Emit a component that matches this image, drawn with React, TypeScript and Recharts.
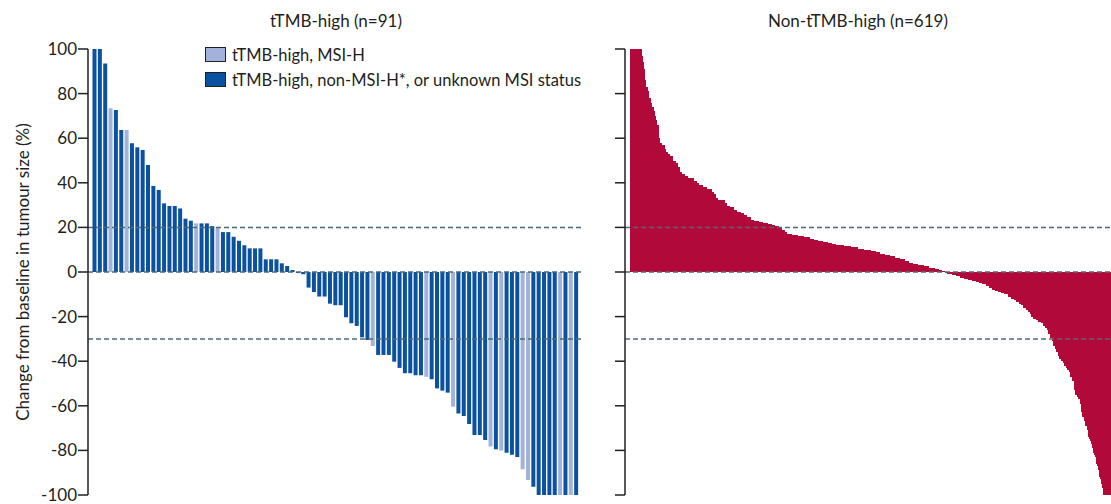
import React from 'react';
import { BarChart, Bar, XAxis, YAxis, ReferenceLine, Legend } from 'recharts';

// ---------- labels ----------
const highTitle = 'tTMB-high (n=91)';
const nonHighTitle = 'Non-tTMB-high (n=619)';
const yAxisLabel = 'Change from baseline in tumour size (%)';
const msiHLabel = 'tTMB-high, MSI-H';
const otherLabel = 'tTMB-high, non-MSI-H*, or unknown MSI status';

// ---------- ticks / reference lines ----------
const yTicks = [100, 80, 60, 40, 20, 0, -20, -40, -60, -80, -100];
const referenceValues = [20, 0, -30];

// ---------- tTMB-high: best change per patient (sorted) ----------
const highValues = [
  100, 100, 93.5, 73.4, 72.6, 63.7, 63.7, 57.7, 55.9, 54.7,
  48, 38.6, 36.8, 30.8, 29.6, 29.6, 28.5, 23.9, 23, 21.8,
  21.8, 21.8, 20.6, 20, 17.9, 17.9, 15.8, 14, 12, 10.6,
  10.6, 10.6, 5.7, 5.7, 5.7, 3.9, 2.7, 0.9, -0.5, -1,
  -7, -9, -11, -11, -14.2, -14.9, -14.9, -20.3, -23, -24.2,
  -29.3, -30.5, -33.2, -37.2, -37.2, -37.2, -40.2, -43, -45.4, -45.4,
  -46.3, -46.3, -47, -48.1, -52.2, -53.2, -54.1, -60.4, -63.4, -64.6,
  -68.2, -73.1, -73.1, -75.3, -78.3, -79.5, -80.1, -81, -82, -83,
  -88.5, -93.3, -96.3, -100, -100, -100, -100, -100, -100, -100,
  -100,
];
// 1-based positions of MSI-H patients
const msiHPositions = [4, 7, 20, 24, 53, 63, 68, 75, 77, 81, 82, 88, 90];

// ---------- non-tTMB-high: runs of [value, number of patients] ----------
const nonHighRuns: [number, number][] = [
  [100, 16], [97, 1], [94, 1], [91, 2], [86, 1], [83, 2], [81, 2], [78, 2], [76, 2], [74, 2],
  [72, 1], [70, 2], [68, 1], [66, 2], [63, 1], [60, 1], [58, 2], [57, 4], [55, 2], [54, 2],
  [53, 3], [52, 3], [50, 4], [49, 3], [47, 2], [45, 3], [44, 3], [43, 4], [42, 8], [41, 4],
  [40, 3], [39, 4], [38, 5], [37, 7], [36, 3], [35, 2], [33, 2], [32.5, 10], [31, 2], [29.5, 4],
  [29, 5], [28, 4], [27, 5], [26.5, 4], [25.5, 4], [24.5, 5], [23.5, 4], [23, 6], [22.5, 5], [22, 6],
  [21.5, 5], [21, 4], [20.5, 5], [20, 4], [19, 4], [18, 3], [17, 6], [16.5, 7], [16, 8], [15.5, 8],
  [15, 5], [14.5, 5], [14, 6], [13.5, 6], [13, 6], [12.5, 5], [12, 10], [11.5, 9], [11, 9], [10.5, 8],
  [10, 8], [9.5, 6], [9, 6], [8, 6], [7.5, 6], [7, 7], [6.5, 6], [6, 6], [5, 5], [4.2, 6],
  [3.5, 6], [3, 8], [2.5, 6], [2, 8], [1.5, 5], [1, 4], [0.5, 3],
  [-0.3, 3], [-1, 6], [-1.5, 5], [-2, 6], [-2.5, 5], [-3, 5], [-3.5, 5], [-4, 5], [-4.5, 4], [-5, 4],
  [-5.5, 4], [-6.5, 4], [-7, 4], [-8, 4], [-8.5, 4], [-9, 4], [-9.5, 4], [-10, 4], [-11, 4], [-12, 4],
  [-12.5, 3], [-13.5, 3], [-14.5, 3], [-15, 3], [-16, 3], [-17, 3], [-18, 2], [-19, 2], [-20, 3], [-21, 3],
  [-21.5, 3], [-22.5, 3], [-23, 3], [-24, 3], [-25, 2], [-26, 2], [-28, 2], [-29.5, 2], [-31, 2], [-33, 2],
  [-34.5, 2], [-36, 2], [-37.5, 2], [-39, 2], [-40, 2], [-41, 2], [-42, 2], [-43, 2], [-44, 2], [-45, 2],
  [-47, 2], [-49, 2], [-51, 1], [-53, 1], [-55, 2], [-56, 2], [-57, 2], [-59, 1], [-61, 1], [-63, 1],
  [-65, 2], [-67, 1], [-68, 1], [-69, 2], [-71, 1], [-72, 1], [-74, 1], [-75, 1], [-76, 1], [-77, 1],
  [-79, 2], [-81, 1], [-82, 1], [-83, 1], [-84, 1], [-86, 1], [-87, 1], [-89, 1], [-91, 1], [-92, 1],
  [-93, 1], [-95, 1], [-97, 1], [-100, 17],
];

// ---------- colours ----------
const INK = '#231f20';
const DARK_BLUE = '#0a52a0';
const LIGHT_BLUE = '#a3b2da';
const RED = '#b0093a';
const DASH = '#4d6a74';
const FONT = 'Lato, "Open Sans", sans-serif';

// ---------- tables built from the arrays ----------
const highData = highValues.map((v, i) => {
  const isH = msiHPositions.includes(i + 1);
  return { idx: i + 1, msiH: isH ? v : null, other: isH ? null : v };
});

const nonHighValues: number[] = [];
nonHighRuns.forEach(([v, n]) => {
  for (let k = 0; k < n; k++) nonHighValues.push(v);
});
const nonHighData = nonHighValues.map((v, i) => ({ idx: i + 1, change: v }));

const CHART_W = 600;
const CHART_H = 504;
const MARGIN = { top: 49, right: 17, bottom: 9, left: 0 };

const renderLegend = (props: any) => {
  const { payload } = props;
  return (
    <div style={{ fontFamily: FONT, fontSize: 16.5, color: INK }}>
      {(payload || []).map((entry: any) => (
        <div key={entry.value} style={{ display: 'flex', alignItems: 'center', height: 25, whiteSpace: 'nowrap' }}>
          <span
            style={{
              display: 'inline-block',
              width: 21,
              height: 15,
              background: entry.color,
              border: `1.5px solid ${INK}`,
              boxSizing: 'border-box',
              marginRight: 6,
            }}
          />
          <span>{entry.value}</span>
        </div>
      ))}
    </div>
  );
};

const YLabel = (props: any) => {
  const vb = props.viewBox || {};
  const cx = (vb.x || 0) + 22;
  const cy = (vb.y || 0) + (vb.height || 0) / 2;
  return (
    <text
      x={cx}
      y={cy}
      transform={`rotate(-90 ${cx} ${cy})`}
      textAnchor="middle"
      dominantBaseline="central"
      fill={INK}
      fontSize={17}
      fontFamily={FONT}
    >
      {yAxisLabel}
    </text>
  );
};

const axisStroke = { stroke: INK, strokeWidth: 1.5 };

const refLines = referenceValues.map((v) => (
  <ReferenceLine key={v} y={v} stroke={DASH} strokeWidth={1.5} strokeDasharray="5 3" />
));

const titleStyle = (center: number): React.CSSProperties => ({
  position: 'absolute',
  left: center - 200,
  width: 400,
  top: 10,
  textAlign: 'center',
  fontSize: 17,
  lineHeight: '21px',
  color: INK,
  fontFamily: FONT,
});

const blankTick = () => '';

export default function App() {
  return (
    <div
      style={{
        position: 'fixed',
        left: 0,
        top: 0,
        width: 1111,
        height: 504,
        overflow: 'hidden',
        background: '#fff',
        fontFamily: FONT,
      }}
    >
      <style>{`.crisp-bars path { shape-rendering: crispEdges; }`}</style>
      <div style={titleStyle(336)}>{highTitle}</div>
      <div style={titleStyle(858)}>{nonHighTitle}</div>

      <div style={{ position: 'absolute', left: 0, top: 0 }}>
        <BarChart width={CHART_W} height={CHART_H} data={highData} margin={MARGIN} barCategoryGap={0.5} barGap={0}>
          <XAxis dataKey="idx" type="category" tick={false} tickLine={false} axisLine={axisStroke} padding={{ left: 4, right: 4 }} height={0} />
          <YAxis
            width={88}
            domain={[-100, 100]}
            ticks={yTicks}
            interval={0}
            tickSize={10}
            tickMargin={1}
            axisLine={axisStroke}
            tickLine={axisStroke}
            tick={{ fill: INK, fontSize: 17, fontFamily: FONT }}
            allowDataOverflow
            label={{ content: <YLabel /> }}
          />
          <Bar dataKey="msiH" name={msiHLabel} stackId="a" fill={LIGHT_BLUE} isAnimationActive={false} />
          <Bar dataKey="other" name={otherLabel} stackId="a" fill={DARK_BLUE} isAnimationActive={false} />
          {refLines}
          <Legend
            content={renderLegend}
            layout="vertical"
            align="center"
            verticalAlign="middle"
            wrapperStyle={{ left: 205, top: 42, width: 400, height: 50 }}
          />
        </BarChart>
      </div>

      <div style={{ position: 'absolute', left: 537, top: 0 }}>
        <BarChart width={CHART_W} height={CHART_H} data={nonHighData} margin={MARGIN} barCategoryGap={0} barGap={0}>
          <XAxis dataKey="idx" type="category" tick={false} tickLine={false} axisLine={axisStroke} padding={{ left: 4.5, right: 4 }} height={0} />
          <YAxis
            width={88}
            domain={[-100, 100]}
            ticks={yTicks}
            interval={0}
            tickSize={10}
            tickMargin={1}
            axisLine={axisStroke}
            tickLine={axisStroke}
            tickFormatter={blankTick}
            allowDataOverflow
          />
          <Bar dataKey="change" fill={RED} className="crisp-bars" isAnimationActive={false} />
          {refLines}
        </BarChart>
      </div>
    </div>
  );
}
